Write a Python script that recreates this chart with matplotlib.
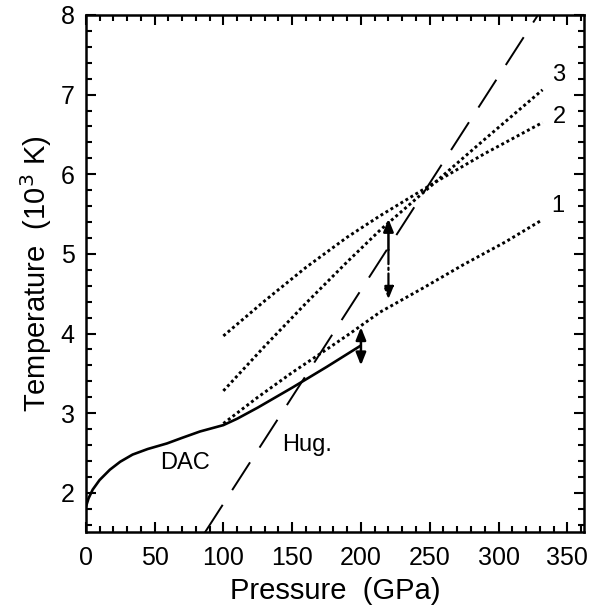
import matplotlib.pyplot as plt
from matplotlib.ticker import MultipleLocator

plt.rcParams['font.family'] = ['Liberation Sans', 'DejaVu Sans']

# DAC melting curve (solid)
dac_p = [0, 2, 5, 10, 17.5, 25, 34, 45, 59, 70, 83, 100, 110, 125, 150, 175, 200]
dac_t = [1.82, 1.93, 2.04, 2.16, 2.29, 2.39, 2.48, 2.55, 2.62, 2.69, 2.77, 2.85,
         2.93, 3.07, 3.32, 3.58, 3.85]

# Hugoniot (long dashes)
hug_p = [86.5, 328.7]
hug_t = [1.5, 8.0]

# extrapolated curves (dotted)
c1_p = [100, 125, 150, 175, 192, 214, 245, 274, 305, 331]
c1_t = [2.87, 3.2, 3.51, 3.8, 4.0, 4.27, 4.57, 4.86, 5.15, 5.42]
c2_p = [100, 130, 160, 190, 214, 254, 290, 332]
c2_t = [3.97, 4.41, 4.83, 5.21, 5.48, 5.90, 6.26, 6.65]
c3_p = [100, 130, 160, 190, 214, 254, 290, 332]
c3_t = [3.28, 3.84, 4.38, 4.9, 5.30, 5.90, 6.44, 7.06]

curve_labels = ["1", "2", "3"]
curve_label_t = [5.6, 6.72, 7.25]

# arrows: (pressure, lower T, upper T)
arrow1 = (200, 3.6, 4.08)
arrow2 = (220, 4.43, 5.05, 5.44)  # lower tip, break point, upper tip

fig = plt.figure(figsize=(6, 6.12), dpi=100)
ax = fig.add_axes([0.143, 0.131, 0.830, 0.8445])

ax.plot(dac_p, dac_t, color='black', lw=1.9, solid_capstyle='butt')
ax.plot(hug_p, hug_t, color='black', lw=1.4, linestyle=(0, (17, 9)))
for p, t in [(c1_p, c1_t), (c2_p, c2_t), (c3_p, c3_t)]:
    ax.plot(p, t, color='black', lw=2.1, linestyle=(0, (1, 1.0)))

ends = [c1_p[-1], c2_p[-1], c3_p[-1]]
for lab, x, y in zip(curve_labels, ends, curve_label_t):
    ax.text(x + 12, y, lab, fontsize=17, ha='center', va='center')

ax.text(72, 2.38, "DAC", fontsize=17, ha='center', va='center')
ax.text(161, 2.6, "Hug.", fontsize=17, ha='center', va='center')

head = 'head_length=0.75,head_width=0.3'
ax.annotate('', xy=(arrow1[0], arrow1[2]), xytext=(arrow1[0], arrow1[1]),
            arrowprops=dict(arrowstyle='<|-|>,' + head,
                            color='black', lw=1.8, shrinkA=0, shrinkB=0))
ax.annotate('', xy=(arrow2[0], arrow2[3]), xytext=(arrow2[0], arrow2[2]),
            arrowprops=dict(arrowstyle='-|>,' + head,
                            color='black', lw=1.8, shrinkA=0, shrinkB=0))
ax.annotate('', xy=(arrow2[0], arrow2[1]), xytext=(arrow2[0], arrow2[2]),
            arrowprops=dict(arrowstyle='-|>,' + head,
                            color='black', lw=1.6, linestyle='-.',
                            shrinkA=0, shrinkB=0))

ax.set_xlim(0, 362)
ax.set_ylim(1.51, 8)
ax.xaxis.set_major_locator(MultipleLocator(50))
ax.xaxis.set_minor_locator(MultipleLocator(10))
ax.yaxis.set_major_locator(MultipleLocator(1))
ax.yaxis.set_minor_locator(MultipleLocator(0.2))
ax.tick_params(which='both', direction='in', top=True, right=True, width=1.5)
ax.tick_params(which='major', length=7, labelsize=18)
ax.tick_params(axis='x', which='major', pad=10)
ax.tick_params(axis='y', which='major', pad=8)
ax.tick_params(which='minor', length=4)
for s in ax.spines.values():
    s.set_linewidth(1.8)

ax.set_xlabel("Pressure  (GPa)", fontsize=21, labelpad=5)
ax.set_ylabel("Temperature  (10$^3$ K)", fontsize=21, labelpad=5)

fig.savefig("out.png", dpi=100)
